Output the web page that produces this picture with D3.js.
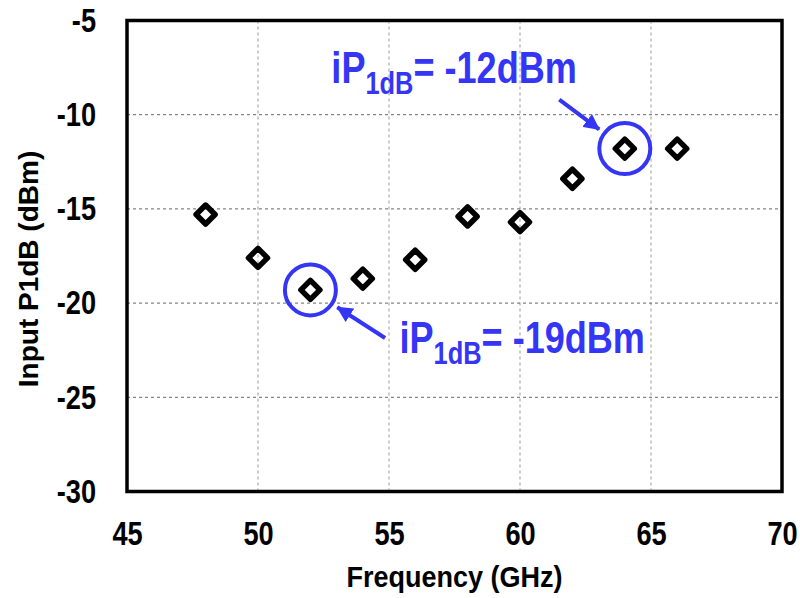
<!DOCTYPE html>
<html>
<head>
<meta charset="utf-8">
<script src="https://cdn.jsdelivr.net/npm/d3@7"></script>
<style>
  body { margin: 0; background: #fff; }
  text { font-family: "Liberation Sans", Arial, sans-serif; font-weight: bold; }
</style>
</head>
<body>
<div id="chart"></div>
<script>
// data
const freqs = [48, 50, 52, 54, 56, 58, 60, 62, 64, 66]
const p1db = [-15.3, -17.6, -19.3, -18.7, -17.7, -15.4, -15.7, -13.4, -11.8, -11.8]
const xTicks = [45, 50, 55, 60, 65, 70]
const yTicks = [-5, -10, -15, -20, -25, -30]

// annotations: circled point, label anchor and arrow tail (data units)
const notePoints = [52, 64]
const noteValues = ["-19dBm", "-12dBm"]
const noteLabelAt = [[55.4, -22.65], [52.8, -8.3]]
const noteArrowFrom = [[54.85, -21.85], [61.5, -9.2]]

const width = 800
const height = 598
const margin = {top: 20.5, right: 18, bottom: 106.5, left: 127}
const innerW = width - margin.left - margin.right
const innerH = height - margin.top - margin.bottom
const blue = "#3535f5"

// narrow look: squeeze text horizontally around its anchor
function squeeze(sel, s) {
  sel.each(function () {
    const t = d3.select(this)
    const x = +t.attr("x") || 0
    const y = +t.attr("y") || 0
    t.attr("x", 0).attr("y", 0)
      .attr("transform", `translate(${x}, ${y}) scale(${s}, 1)`)
  })
}

const svg = d3.select("#chart")
  .append("svg")
  .attr("width", width)
  .attr("height", height)

const g = svg.append("g")
  .attr("transform", `translate(${margin.left}, ${margin.top})`)

// scales
const xScale = d3.scaleLinear().domain([45, 70]).range([0, innerW])
const yScale = d3.scaleLinear().domain([-30, -5]).range([innerH, 0])

// grid
g.append("g")
  .selectAll("line")
  .data(xTicks.slice(1, -1))
  .join("line")
  .attr("x1", d => xScale(d)).attr("x2", d => xScale(d))
  .attr("y1", 0).attr("y2", innerH)
  .attr("stroke", "#999")
  .attr("stroke-width", 1)
  .attr("stroke-dasharray", "3,3")

g.append("g")
  .selectAll("line")
  .data(yTicks.slice(1, -1))
  .join("line")
  .attr("x1", 0).attr("x2", innerW)
  .attr("y1", d => yScale(d)).attr("y2", d => yScale(d))
  .attr("stroke", "#666")
  .attr("stroke-width", 1)
  .attr("stroke-dasharray", "3,3")

// axes (labels only, the frame is a rect)
const xAxis = d3.axisBottom(xScale).tickValues(xTicks).tickSize(0).tickPadding(29).tickFormat(d => String(d))
const yAxis = d3.axisLeft(yScale).tickValues(yTicks).tickSize(0).tickPadding(31).tickFormat(d => String(d))

const xg = g.append("g")
  .attr("transform", `translate(0, ${innerH})`)
  .call(xAxis)
  .call(a => a.select(".domain").remove())
  .attr("font-family", null)
  .attr("font-size", null)
xg.selectAll("text").attr("font-size", 34).attr("fill", "#000")
squeeze(xg.selectAll("text"), 0.8)

const yg = g.append("g")
  .call(yAxis)
  .call(a => a.select(".domain").remove())
  .attr("font-family", null)
  .attr("font-size", null)
yg.selectAll("text").attr("font-size", 34).attr("fill", "#000")
squeeze(yg.selectAll("text"), 0.8)

g.append("rect")
  .attr("width", innerW)
  .attr("height", innerH)
  .attr("fill", "none")
  .attr("stroke", "#000")
  .attr("stroke-width", 3.5)

// axis titles
const xTitle = svg.append("text")
  .attr("x", margin.left + innerW / 2)
  .attr("y", 587)
  .attr("text-anchor", "middle")
  .attr("font-size", 30)
  .text("Frequency (GHz)")
squeeze(xTitle, 0.9)

svg.append("text")
  .attr("transform", `translate(38, 269) rotate(-90)`)
  .attr("text-anchor", "middle")
  .attr("font-size", 28)
  .text("Input P1dB (dBm)")

// markers
const diamond = "M0,-9.5 L9.5,0 L0,9.5 L-9.5,0 Z"
g.append("g")
  .selectAll("path")
  .data(freqs)
  .join("path")
  .attr("transform", (d, i) => `translate(${xScale(d)}, ${yScale(p1db[i])})`)
  .attr("d", diamond)
  .attr("fill", "none")
  .attr("stroke", "#000")
  .attr("stroke-width", 5.5)
  .attr("stroke-linejoin", "round")

// annotations
svg.append("defs").append("marker")
  .attr("id", "arrow")
  .attr("viewBox", "0 0 16 16")
  .attr("refX", 15).attr("refY", 8)
  .attr("markerWidth", 16).attr("markerHeight", 16)
  .attr("markerUnits", "userSpaceOnUse")
  .attr("orient", "auto")
  .append("path")
  .attr("d", "M0,0 L16,8 L0,16 Z")
  .attr("fill", blue)

notePoints.forEach((f, k) => {
  const i = freqs.indexOf(f)
  const cx = xScale(f)
  const cy = yScale(p1db[i])
  g.append("circle")
    .attr("cx", cx).attr("cy", cy).attr("r", 25.5)
    .attr("fill", "none")
    .attr("stroke", blue)
    .attr("stroke-width", 4)

  const ax = xScale(noteArrowFrom[k][0])
  const ay = yScale(noteArrowFrom[k][1])
  const dx = cx - ax, dy = cy - ay
  const len = Math.hypot(dx, dy)
  g.append("line")
    .attr("x1", ax).attr("y1", ay)
    .attr("x2", cx - dx / len * 32).attr("y2", cy - dy / len * 32)
    .attr("stroke", blue)
    .attr("stroke-width", 4)
    .attr("marker-end", "url(#arrow)")

  const t = g.append("text")
    .attr("x", xScale(noteLabelAt[k][0]))
    .attr("y", yScale(noteLabelAt[k][1]))
    .attr("fill", blue)
    .attr("font-size", 44)
  t.append("tspan").text("iP")
  t.append("tspan").attr("font-size", 31).attr("dy", 11).text("1dB")
  t.append("tspan").attr("dy", -11).text("= " + noteValues[k])
  squeeze(t, 0.82)
})
</script>
</body>
</html>
